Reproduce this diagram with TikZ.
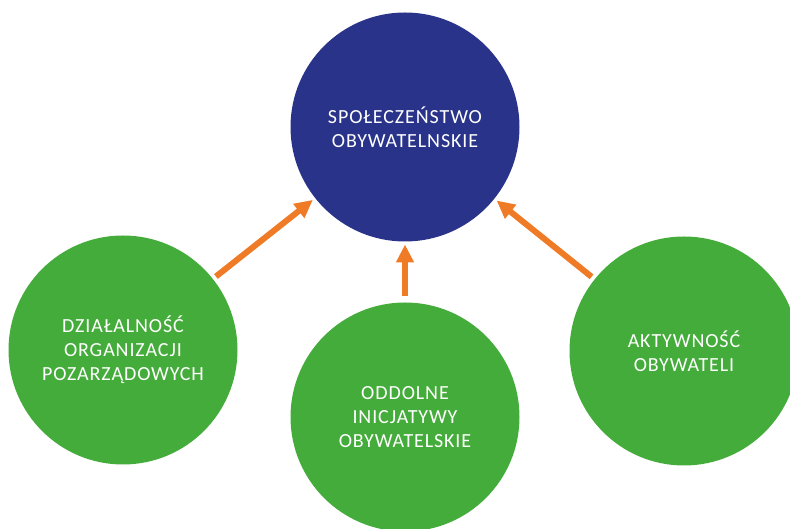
\documentclass[tikz,border=0pt]{standalone}
\usepackage{xcolor}
\usepackage{fontspec}
\setmainfont{Carlito}[LetterSpace=4.5]
\usepackage{tikz}
\usetikzlibrary{arrows.meta, positioning}

\definecolor{civicnavy}{HTML}{283389}
\definecolor{civicgreen}{HTML}{44AC3A}
\definecolor{civicorange}{HTML}{F07B26}

\tikzset{
    bubble/.style={circle, minimum size=229pt, inner sep=0pt, outer sep=0pt,
                   align=center, text=white,
                   font=\fontsize{20}{24}\selectfont},
    pusharrow/.style={-{Triangle[length=18pt, width=17pt]}, civicorange,
                      line width=6pt, shorten <=4pt, shorten >=3pt}
}

\begin{document}
\begin{tikzpicture}[x=1pt, y=1pt, line join=round]
        \useasboundingbox (0, 0) rectangle (790, 529);
        \clip (0, 0) rectangle (790, 529);
        % central circle
        \node[bubble, fill=civicnavy] (society) at (405, 402)
            {SPOŁECZEŃSTWO\\OBYWATELNSKIE};
        % supporting circles
        \node[bubble, fill=civicgreen] (ngo) at (123, 179)
            {DZIAŁALNOŚĆ\\ORGANIZACJI\\POZARZĄDOWYCH};
        \node[bubble, fill=civicgreen] (grassroots) at (405, 112)
            {ODDOLNE\\INICJATYWY\\OBYWATELSKIE};
        \node[bubble, fill=civicgreen] (activity) at (684, 178)
            {AKTYWNOŚĆ\\OBYWATELI};
        % arrows towards the centre
        \draw[pusharrow] (ngo) -- (society);
        \draw[pusharrow, shorten <=6pt] (grassroots) -- (society);
        \draw[pusharrow] (activity) -- (society);
    \end{tikzpicture}
\end{document}
